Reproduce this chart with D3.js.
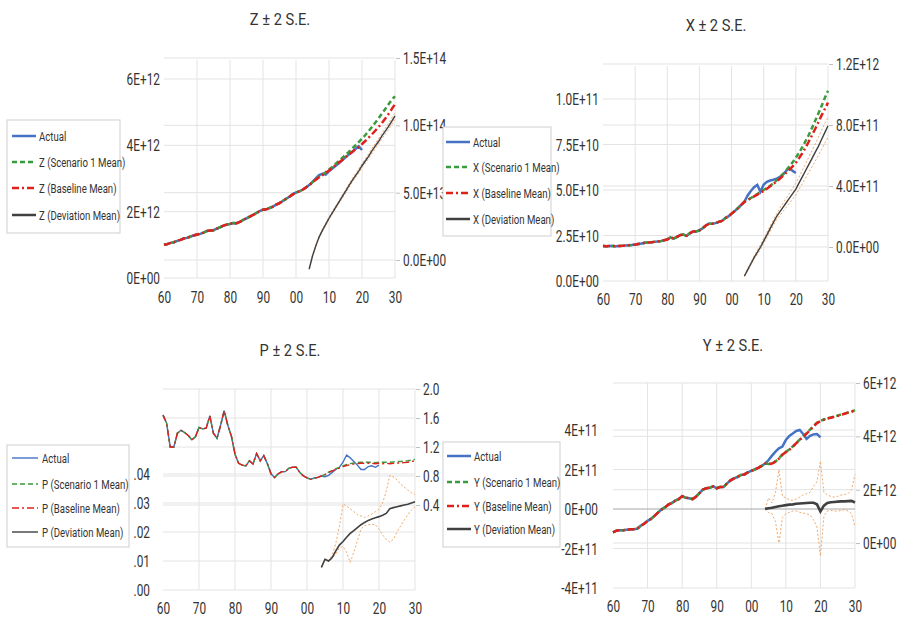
<!DOCTYPE html>
<html>
<head>
<meta charset="utf-8">
<script src="https://cdn.jsdelivr.net/npm/d3@7"></script>
<style>
  body { margin: 0; background: #fff; }
  #chart text { font-family: Roboto, 'Liberation Sans', sans-serif; fill: #333; }
</style>
</head>
<body>
<svg id="chart" width="899" height="619" viewBox="0 0 899 619"></svg>
<script>
// ---- shared categories -------------------------------------------------
const xTickYears  = [1960, 1970, 1980, 1990, 2000, 2010, 2020, 2030];
const xTickLabels = ["60", "70", "80", "90", "00", "10", "20", "30"];
const histYears   = d3.range(1960, 2005);   // observed history 1960-2004
const fcstYears   = d3.range(2005, 2031);   // forecast 2005-2030
const actYears    = d3.range(2005, 2021);   // actual continues to 2020
const devYears    = d3.range(2004, 2031);   // deviation 2004-2030

// ---- Z ------------------------------------------------------------------
const zHistory  = [1.00,1.02,1.06,1.08,1.12,1.15,1.19,1.21,1.25,1.28,1.31,1.33,1.37,1.42,1.43,1.44,1.49,1.53,1.58,1.61,
                   1.63,1.66,1.65,1.69,1.75,1.80,1.85,1.90,1.96,2.02,2.06,2.07,2.11,2.15,2.21,2.26,2.32,2.39,2.45,2.52,
                   2.58,2.61,2.66,2.73,2.80];                                   // x1E12
const zActual   = [2.90,3.00,3.10,3.14,3.12,3.22,3.30,3.38,3.46,3.55,3.64,3.72,3.80,3.89,3.97,3.86];
const zScenario = [2.89,2.97,3.05,3.12,3.19,3.27,3.35,3.44,3.53,3.62,3.71,3.80,3.90,4.00,4.10,4.20,4.31,4.43,4.55,4.68,
                   4.81,4.95,5.09,5.23,5.37,5.48];
const zBaseline = [2.88,2.96,3.04,3.10,3.17,3.24,3.32,3.40,3.48,3.56,3.64,3.72,3.80,3.88,3.96,4.04,4.13,4.23,4.33,4.44,
                   4.55,4.67,4.80,4.94,5.09,5.24];
const zDeviation= [-0.67,0.30,1.05,1.70,2.20,2.65,3.10,3.50,3.90,4.30,4.70,5.10,5.50,5.90,6.25,6.60,7.00,7.35,7.70,8.10,
                   8.45,8.80,9.20,9.55,9.90,10.30,10.70];                       // x1E13
const zDevUpper = [-0.62,0.36,1.12,1.78,2.28,2.74,3.20,3.60,4.00,4.41,4.82,5.22,5.63,6.03,6.39,6.75,7.15,7.51,7.87,8.28,
                   8.64,9.00,9.41,9.77,10.13,10.54,10.95];
const zDevLower = [-0.72,0.24,0.98,1.62,2.12,2.56,3.00,3.40,3.80,4.19,4.58,4.98,5.37,5.77,6.11,6.45,6.85,7.19,7.53,7.92,
                   8.26,8.60,8.99,9.33,9.67,10.06,10.45];

// ---- X ------------------------------------------------------------------
const xHistory  = [1.92,1.91,1.92,1.92,1.91,1.92,1.93,1.95,1.97,1.98,2.00,2.03,2.06,2.10,2.12,2.13,2.15,2.17,2.19,2.24,
                   2.28,2.40,2.33,2.42,2.52,2.55,2.48,2.62,2.72,2.72,2.78,2.90,3.05,3.15,3.15,3.18,3.25,3.30,3.45,3.55,
                   3.70,3.85,4.00,4.18,4.35];                                   // x1E10
const xActual   = [4.70,4.95,5.15,5.28,4.90,5.30,5.45,5.52,5.56,5.62,5.72,5.85,6.05,6.20,6.05,5.93];
const xScenario = [4.45,4.56,4.67,4.78,4.89,5.00,5.11,5.23,5.37,5.53,5.70,5.88,6.08,6.30,6.52,6.78,7.05,7.35,7.68,8.02,
                   8.40,8.80,9.20,9.62,10.05,10.45];
const xBaseline = [4.45,4.55,4.65,4.75,4.85,4.95,5.07,5.20,5.33,5.47,5.62,5.78,5.95,6.12,6.30,6.50,6.75,7.02,7.32,7.65,
                   8.00,8.35,8.72,9.10,9.45,9.80];
const xDeviation= [-1.90,-1.50,-1.10,-0.70,-0.35,0.00,0.40,0.80,1.20,1.60,2.00,2.30,2.60,2.90,3.20,3.50,3.80,4.20,4.60,5.00,
                   5.40,5.80,6.20,6.60,7.05,7.50,7.95];                         // x1E11
const xDevUpper = [-1.85,-1.42,-1.00,-0.60,-0.22,0.15,0.55,0.95,1.36,1.77,2.18,2.55,2.88,3.20,3.52,3.85,4.18,4.60,5.02,5.45,
                   5.88,6.30,6.75,7.18,7.65,8.10,8.50];
const xDevLower = [-1.95,-1.58,-1.20,-0.80,-0.48,-0.15,0.25,0.62,1.02,1.42,1.80,2.05,2.33,2.60,2.88,3.15,3.42,3.80,4.15,4.50,
                   4.88,5.25,5.62,6.00,6.40,6.80,7.20];

// ---- P ------------------------------------------------------------------
const pHistory  = [1.64,1.53,1.20,1.20,1.39,1.43,1.40,1.36,1.30,1.34,1.47,1.45,1.46,1.63,1.39,1.32,1.50,1.70,1.50,1.35,
                   1.10,0.975,0.95,0.94,1.01,0.965,1.11,1.01,1.08,0.97,0.83,0.78,0.83,0.86,0.86,0.91,0.92,0.92,0.85,0.80,
                   0.775,0.755,0.77,0.78,0.80];
const pActual   = [0.79,0.81,0.85,0.89,0.92,0.99,1.09,1.05,1.00,0.95,0.89,0.89,0.93,0.94,0.92,0.95];
const pScenario = [0.82,0.855,0.875,0.90,0.92,0.94,0.96,0.97,0.98,0.985,0.99,0.99,0.99,0.99,0.985,0.99,0.99,0.99,0.99,0.995,
                   1.00,1.00,1.005,1.01,1.02,1.03];
const pBaseline = [0.82,0.85,0.87,0.89,0.91,0.93,0.945,0.955,0.965,0.97,0.975,0.975,0.975,0.975,0.97,0.975,0.97,0.975,0.97,0.975,
                   0.98,0.98,0.985,0.99,1.00,1.01];
const pDeviation= [0.0078,0.0106,0.0100,0.0112,0.0135,0.0155,0.0167,0.0182,0.0195,0.0205,0.0215,0.0225,0.0233,0.0240,0.0245,
                   0.0249,0.0253,0.0258,0.0264,0.0280,0.0284,0.0287,0.0290,0.0293,0.0296,0.0300,0.0304];
const pDevUpper = [0.0078,0.0106,0.0102,0.0120,0.0160,0.0220,0.0296,0.0290,0.0280,0.0270,0.0260,0.0255,0.0250,0.0255,0.0262,
                   0.0270,0.0278,0.0300,0.0340,0.0395,0.0390,0.0380,0.0365,0.0355,0.0345,0.0335,0.0330];
const pDevLower = [0.0078,0.0106,0.0098,0.0110,0.0125,0.0145,0.0150,0.0130,0.0095,0.0130,0.0170,0.0210,0.0222,0.0225,0.0227,
                   0.0225,0.0210,0.0190,0.0175,0.0165,0.0175,0.0200,0.0220,0.0240,0.0260,0.0275,0.0287];

// ---- Y ------------------------------------------------------------------
const yHistory  = [-1.18,-1.10,-1.08,-1.07,-1.05,-1.03,-1.02,-1.00,-0.85,-0.75,-0.60,-0.50,-0.35,-0.18,-0.03,0.08,0.22,0.30,0.42,0.50,
                   0.65,0.57,0.55,0.50,0.62,0.80,0.98,1.05,1.08,1.15,1.05,1.12,1.12,1.30,1.45,1.55,1.62,1.72,1.75,1.85,
                   1.93,2.00,2.08,2.18,2.30];                                   // x1E11
const yActual   = [2.48,2.70,2.90,3.07,3.16,3.50,3.70,3.82,3.95,4.00,3.80,3.55,3.70,3.78,3.80,3.63];
const yScenario = [2.28,2.31,2.41,2.56,2.76,2.89,3.02,3.17,3.34,3.51,3.67,3.84,4.02,4.20,4.36,4.46,4.53,4.59,4.63,4.68,
                   4.73,4.79,4.83,4.89,4.93,5.01];
const yBaseline = [2.27,2.30,2.40,2.55,2.75,2.88,3.00,3.15,3.33,3.50,3.65,3.82,4.00,4.18,4.35,4.45,4.52,4.58,4.62,4.67,
                   4.72,4.78,4.82,4.88,4.92,5.00];
const yDeviation= [1.28,1.30,1.32,1.35,1.38,1.40,1.42,1.44,1.45,1.47,1.48,1.49,1.50,1.51,1.51,1.45,1.18,1.40,1.50,1.53,
                   1.54,1.55,1.56,1.56,1.57,1.58,1.52];                         // x1E12
const yDevUpper = [1.28,1.69,1.50,1.90,2.75,1.75,1.69,1.62,1.60,1.65,1.72,1.81,1.85,1.90,2.12,2.30,3.07,1.90,1.80,1.75,
                   1.72,1.75,1.80,1.82,1.85,2.00,2.57];
const yDevLower = [1.28,1.14,1.10,0.80,0.00,0.95,1.10,1.15,1.20,1.20,1.15,1.12,1.10,1.05,0.87,0.60,-0.49,1.00,1.20,1.22,
                   1.20,1.20,1.22,1.25,1.20,1.10,0.61];

// ---- axis tick values & labels -------------------------------------------
const zLeftTicks  = [0, 2e12, 4e12, 6e12],            zLeftLabels  = ["0E+00", "2E+12", "4E+12", "6E+12"];
const zRightTicks = [0, 5e13, 1e14, 1.5e14],          zRightLabels = ["0.0E+00", "5.0E+13", "1.0E+14", "1.5E+14"];
const xLeftTicks  = [0, 2.5e10, 5e10, 7.5e10, 1e11],  xLeftLabels  = ["0.0E+00", "2.5E+10", "5.0E+10", "7.5E+10", "1.0E+11"];
const xRightTicks = [0, 4e11, 8e11, 1.2e12],          xRightLabels = ["0.0E+00", "4.0E+11", "8.0E+11", "1.2E+12"];
const pLeftTicks  = [0, 0.01, 0.02, 0.03, 0.04],      pLeftLabels  = [".00", ".01", ".02", ".03", ".04"];
const pRightTicks = [0.4, 0.8, 1.2, 1.6, 2.0],        pRightLabels = ["0.4", "0.8", "1.2", "1.6", "2.0"];
const yLeftTicks  = [-4e11, -2e11, 0, 2e11, 4e11],    yLeftLabels  = ["-4E+11", "-2E+11", "0E+00", "2E+11", "4E+11"];
const yRightTicks = [0, 2e12, 4e12, 6e12],            yRightLabels = ["0E+00", "2E+12", "4E+12", "6E+12"];

const legendSuffixes = ["(Scenario 1 Mean)", "(Baseline Mean)", "(Deviation Mean)"];

// ---- helpers ---------------------------------------------------------------
const zip = (years, vals, k) => years.map((yr, i) => ({ yr, v: vals[i] * k }));

const svg = d3.select("#chart");
const COL = { actual: "#4472C4", scen: "#3A9B3E", base: "#E0201B", dev: "#404040", band: "#F0A868", grid: "#E3E3E3" };

// narrow text: every label is drawn inside a group scaled horizontally
const SQ = 0.74;
function label(parent, x, y, str, size, anchor, sq) {
  const f = sq || SQ;
  const wrap = parent.append("g").attr("transform", `translate(${x},${y}) scale(${f},1)`);
  return wrap.append("text").attr("x", 0).attr("y", 0)
    .attr("dy", "0.35em").attr("text-anchor", anchor)
    .style("font-size", size + "px").attr("font-size", size).text(str);
}

function drawPanel(p) {
  const g = svg.append("g");
  const x  = d3.scaleLinear().domain([1960, 2030]).range([p.x0, p.x1]);
  const yL = d3.scaleLinear().domain(p.leftDom).range(p.leftRng);
  const yR = d3.scaleLinear().domain(p.rightDom).range(p.rightRng);

  // title
  label(g, p.titleX, p.titleY, p.title, 17, "middle", 0.86);

  // grid
  g.selectAll(".vg").data(xTickYears.slice(1)).enter().append("line")
    .attr("x1", d => x(d)).attr("x2", d => x(d)).attr("y1", p.top).attr("y2", p.bottom)
    .attr("stroke", COL.grid).attr("stroke-width", 1);
  g.selectAll(".hl").data(p.leftTicks).enter().append("line")
    .attr("x1", p.x0).attr("x2", p.x1).attr("y1", d => yL(d)).attr("y2", d => yL(d))
    .attr("stroke", d => (p.zeroDark && d === 0) ? "#A6A6A6" : COL.grid).attr("stroke-width", 1);
  g.selectAll(".hr").data(p.rightTicks).enter().append("line")
    .attr("x1", p.x0).attr("x2", p.x1).attr("y1", d => yR(d)).attr("y2", d => yR(d))
    .attr("stroke", COL.grid).attr("stroke-width", 1);

  // axes: d3 axes supply tick positions and the small right-hand tick marks,
  // their labels are drawn as narrow text at those positions
  const aL = g.append("g").attr("transform", `translate(${p.leftLabelX},0)`)
    .call(d3.axisLeft(yL).tickValues(p.leftTicks).tickFormat("").tickSize(0));
  const aR = g.append("g").attr("transform", `translate(${p.x1 + 1},0)`)
    .call(d3.axisRight(yR).tickValues(p.rightTicks).tickFormat("").tickSize(4));
  const aB = g.append("g").attr("transform", `translate(0,${p.xLabelY})`)
    .call(d3.axisBottom(x).tickValues(xTickYears).tickFormat("").tickSize(0));
  [aL, aR, aB].forEach(a => {
    a.select(".domain").remove();
    a.selectAll(".tick text").remove();
    a.selectAll(".tick line").attr("stroke", "#BFBFBF");
  });
  aL.selectAll(".tick").each(function (d, i) { label(d3.select(this), 0, 0, p.leftLabels[i], 16, "end"); });
  aR.selectAll(".tick").each(function (d, i) { label(d3.select(this), 7, 0, p.rightLabels[i], 16, "start"); });
  aB.selectAll(".tick").each(function (d, i) { label(d3.select(this), 0, 8, xTickLabels[i], 16, "middle"); });

  // series
  const main = p.mainOnRight ? yR : yL;
  const devS = p.mainOnRight ? yL : yR;
  const lineM = d3.line().x(d => x(d.yr)).y(d => main(d.v));
  const lineD = d3.line().x(d => x(d.yr)).y(d => devS(d.v));
  const k = p.scale, kd = p.devScale;

  const actual   = zip(histYears.concat(actYears),  p.hist.concat(p.actual), k);
  const scenario = zip(histYears.concat(fcstYears), p.hist.concat(p.scen), k);
  const baseline = zip(histYears.concat(fcstYears), p.hist.concat(p.base), k);

  g.append("path").datum(zip(devYears, p.devUp, kd)).attr("d", lineD).attr("fill", "none")
    .attr("stroke", COL.band).attr("stroke-width", 1).attr("stroke-dasharray", "2,2");
  g.append("path").datum(zip(devYears, p.devLo, kd)).attr("d", lineD).attr("fill", "none")
    .attr("stroke", COL.band).attr("stroke-width", 1).attr("stroke-dasharray", "2,2");

  g.append("path").datum(actual).attr("d", lineM).attr("fill", "none")
    .attr("stroke", COL.actual).attr("stroke-width", p.lw);
  g.append("path").datum(scenario).attr("d", lineM).attr("fill", "none")
    .attr("stroke", COL.scen).attr("stroke-width", p.lw).attr("stroke-dasharray", "5,3");
  g.append("path").datum(baseline).attr("d", lineM).attr("fill", "none")
    .attr("stroke", COL.base).attr("stroke-width", p.lw).attr("stroke-dasharray", "7,3,2,3");
  g.append("path").datum(zip(devYears, p.dev, kd)).attr("d", lineD).attr("fill", "none")
    .attr("stroke", COL.dev).attr("stroke-width", p.devLw);

  // legend
  const L = p.legend;
  const lg = svg.append("g").attr("transform", `translate(${L.x},${L.y})`);
  lg.append("rect").attr("width", L.w).attr("height", L.h).attr("fill", "#fff").attr("stroke", "#CFCFCF");
  const items = [
    { label: "Actual", color: COL.actual, dash: null },
    { label: `${p.name} ${legendSuffixes[0]}`, color: COL.scen, dash: "5,3" },
    { label: `${p.name} ${legendSuffixes[1]}`, color: COL.base, dash: "7,3,2,3" },
    { label: `${p.name} ${legendSuffixes[2]}`, color: COL.dev, dash: null }
  ];
  items.forEach((it, i) => {
    const yy = L.rows[i];
    lg.append("line").attr("x1", L.sx0).attr("x2", L.sx1).attr("y1", yy).attr("y2", yy)
      .attr("stroke", it.color).attr("stroke-width", L.lw).attr("stroke-dasharray", it.dash);
    label(lg, L.tx, yy, it.label, 13, "start");
  });
}

const panels = [
  { name: "Z", title: "Z \u00B1 2 S.E.", titleX: 280, titleY: 19,
    x0: 164, x1: 395, top: 60, bottom: 278, xLabelY: 289,
    leftDom: [0, 6e12], leftRng: [278, 79], rightDom: [0, 1.5e14], rightRng: [260, 58],
    leftTicks: zLeftTicks, leftLabels: zLeftLabels, rightTicks: zRightTicks, rightLabels: zRightLabels,
    leftLabelX: 160, hist: zHistory, actual: zActual, scen: zScenario, base: zBaseline, scale: 1e12,
    dev: zDeviation, devUp: zDevUpper, devLo: zDevLower, devScale: 1e13, lw: 2.5, devLw: 1.4,
    legend: { x: 7, y: 120, w: 113, h: 113, rows: [16, 42, 68, 95], sx0: 5, sx1: 29, tx: 32, lw: 2.5 } },
  { name: "P", title: "P \u00B1 2 S.E.", titleX: 290, titleY: 350,
    x0: 163, x1: 415, top: 389, bottom: 590, xLabelY: 600, mainOnRight: true,
    leftDom: [0, 0.04], leftRng: [590, 474], rightDom: [0, 2.0], rightRng: [534, 389],
    leftTicks: pLeftTicks, leftLabels: pLeftLabels, rightTicks: pRightTicks, rightLabels: pRightLabels,
    leftLabelX: 150, hist: pHistory, actual: pActual, scen: pScenario, base: pBaseline, scale: 1,
    dev: pDeviation, devUp: pDevUpper, devLo: pDevLower, devScale: 1, lw: 1.4, devLw: 1.6,
    legend: { x: 7, y: 445, w: 122, h: 102, rows: [13, 39, 63, 87], sx0: 5, sx1: 31, tx: 35, lw: 1.4 } },
  { name: "X", title: "X \u00B1 2 S.E.", titleX: 716, titleY: 25,
    x0: 603, x1: 828, top: 66, bottom: 281, xLabelY: 291,
    leftDom: [0, 1e11], leftRng: [281, 99], rightDom: [0, 1.2e12], rightRng: [247, 64],
    leftTicks: xLeftTicks, leftLabels: xLeftLabels, rightTicks: xRightTicks, rightLabels: xRightLabels,
    leftLabelX: 599, hist: xHistory, actual: xActual, scen: xScenario, base: xBaseline, scale: 1e10,
    dev: xDeviation, devUp: xDevUpper, devLo: xDevLower, devScale: 1e11, lw: 2.5, devLw: 1.4,
    legend: { x: 443, y: 127, w: 108, h: 109, rows: [15, 40, 66, 92], sx0: 3, sx1: 27, tx: 30, lw: 2.5 } },
  { name: "Y", title: "Y \u00B1 2 S.E.", titleX: 733, titleY: 345,
    x0: 613, x1: 855, top: 383, bottom: 588, xLabelY: 598, zeroDark: true,
    leftDom: [0, 4e11], leftRng: [509, 430], rightDom: [0, 6e12], rightRng: [543, 383],
    leftTicks: yLeftTicks, leftLabels: yLeftLabels, rightTicks: yRightTicks, rightLabels: yRightLabels,
    leftLabelX: 598, hist: yHistory, actual: yActual, scen: yScenario, base: yBaseline, scale: 1e11,
    dev: yDeviation, devUp: yDevUpper, devLo: yDevLower, devScale: 1e12, lw: 2.5, devLw: 2.6,
    legend: { x: 443, y: 442, w: 117, h: 105, rows: [14, 40, 64, 87], sx0: 4, sx1: 28, tx: 31, lw: 2.5 } }
];

panels.forEach(drawPanel);
</script>
</body>
</html>
